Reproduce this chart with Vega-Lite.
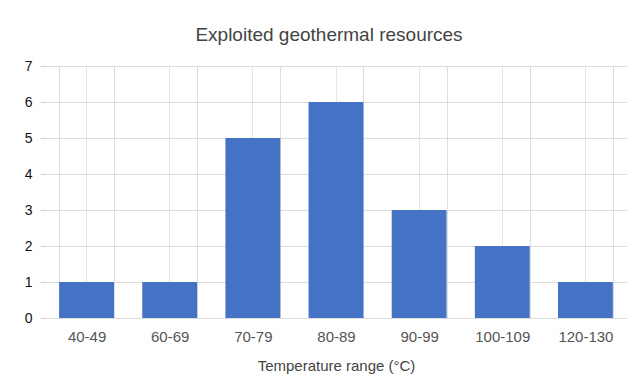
{
  "$schema": "https://vega.github.io/schema/vega-lite/v6.json",
  "autosize": "none",
  "width": 582,
  "height": 252,
  "padding": {"left": 45, "top": 66, "right": 17, "bottom": 65},
  "background": "white",
  "config": {"view": {"stroke": null}, "font": "Liberation Sans"},
  "title": {"text": "Exploited geothermal resources", "fontSize": 19, "fontWeight": "normal", "color": "#444444", "offset": 14, "anchor": "middle", "dx": -7},
  "data": {"values": [
    {"range": "40-49", "count": 1},
    {"range": "60-69", "count": 1},
    {"range": "70-79", "count": 5},
    {"range": "80-89", "count": 6},
    {"range": "90-99", "count": 3},
    {"range": "100-109", "count": 2},
    {"range": "120-130", "count": 1}
  ]},
  "layer": [
    {
      "mark": {"type": "bar", "color": "#4472C4", "opacity": 0},
      "encoding": {
        "x": {"field": "range", "type": "nominal", "sort": null, "scale": {"paddingInner": 0.34, "paddingOuter": 0.17},
          "axis": {"orient": "bottom", "grid": true, "gridColor": "#e6e6e6", "tickBand": "center", "labels": false, "ticks": false, "domain": false, "title": null}},
        "y": {"field": "count", "type": "quantitative", "scale": {"domain": [0, 7]},
          "axis": {"values": [0,1,2,3,4,5,6,7], "grid": true, "gridColor": "#dddddd", "domain": false, "tickColor": "#cccccc", "tickSize": 5, "labelPadding": 8, "labelFontSize": 14, "labelColor": "#111111", "title": null}}
      }
    },
    {
      "mark": {"type": "bar", "color": "#4472C4"},
      "encoding": {
        "x": {"field": "range", "type": "nominal", "sort": null,
          "axis": {"orient": "bottom", "grid": true, "gridColor": "#dddddd", "tickBand": "extent", "ticks": false, "domain": false, "labelAngle": 0, "labelFontSize": 15, "labelColor": "#555555", "labelPadding": 11,
            "title": "Temperature range (°C)", "titleFontSize": 15, "titleFontWeight": "normal", "titleColor": "#444444", "titlePadding": 14}},
        "y": {"field": "count", "type": "quantitative", "scale": {"domain": [0, 7]},
          "axis": {"values": [0,1,2,3,4,5,6,7], "grid": true, "gridColor": "#dddddd", "domain": false, "tickColor": "#cccccc", "tickSize": 5, "labelPadding": 8, "labelFontSize": 14, "labelColor": "#111111", "title": null}}
      }
    }
  ],
  "resolve": {"axis": {"x": "independent"}}
}
